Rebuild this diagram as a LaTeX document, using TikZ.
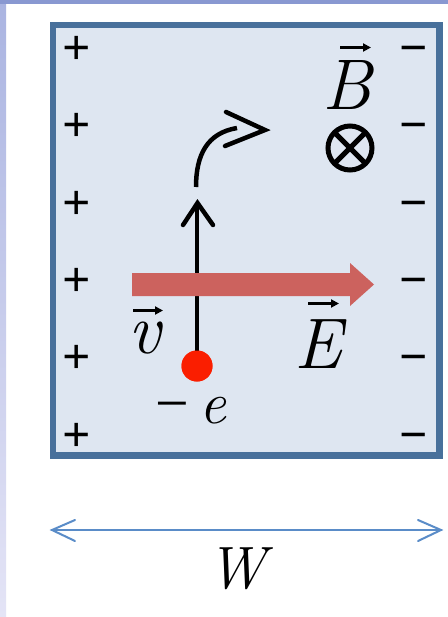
\documentclass[tikz,border=0pt]{standalone}
\usepackage{fontspec}
\newfontfamily\signfont{Liberation Serif}
\usetikzlibrary{arrows.meta}
\definecolor{boxfill}{RGB}{222,230,241}
\definecolor{boxborder}{RGB}{72,112,155}
\definecolor{topband}{RGB}{137,152,209}
\definecolor{sidetop}{RGB}{170,180,225}
\definecolor{sidebot}{RGB}{228,228,246}
\definecolor{efield}{RGB}{204,98,94}
\definecolor{dotred}{RGB}{250,30,0}
\definecolor{wblue}{RGB}{90,140,200}
\tikzset{
  sign/.style={font=\fontsize{50}{50}\selectfont\signfont\bfseries, inner sep=0, anchor=base},
  biglabel/.style={font=\fontsize{72}{72}\selectfont\itshape, inner sep=0, anchor=base},
  midlabel/.style={font=\fontsize{60}{60}\selectfont, inner sep=0, anchor=base},
  blackline/.style={draw=black, line width=4.5bp},
  chevron/.style={draw=black, line width=4.5bp, line join=miter, line cap=round},
  wline/.style={draw=wblue, line width=2bp, line cap=round, line join=miter},
  vecarrow/.style={draw=black, line width=2.2bp, -{Triangle[length=8bp,width=8bp]}},
}
\begin{document}
\begin{tikzpicture}[x=1bp,y=-1bp]
\useasboundingbox (0,0) rectangle (448,617);
\fill[white] (0,0) rectangle (448,617);
\shade[top color=sidetop, bottom color=sidebot] (0,0) rectangle (6,617);
\fill[topband] (0,0) rectangle (448,4);

% plate
\node[draw=boxborder, line width=6.5bp, fill=boxfill, minimum width=386.5bp,
      minimum height=430.5bp, inner sep=0, outer sep=0] (plate) at (246.25,240.25) {};

% charges
\foreach \y [count=\i] in {52.5,129,207,284,360.5,439} {
  \node[sign] (plus\i) at (77,\y+12.5) {+};
  \node[sign] (minus\i) at (414,\y+12.5) {−};
}

% velocity arrow
\coordinate (vtip) at (197.5,203);
\coordinate (varm1) at (183,225);
\coordinate (varm2) at (213,225);
\node[circle, fill=dotred, minimum size=31bp, inner sep=0] (dot) at (197,366) {};
\draw[blackline] (dot.center) -- (197,205);
\draw[chevron] (varm1) -- (vtip) -- (varm2);

% electric field arrow
\fill[efield] (132,273) -- (350,273) -- (350,263) -- (374,284.5) -- (350,306)
  -- (350,296) -- (132,296) -- cycle;

\node[circle, fill=dotred, minimum size=31bp, inner sep=0] (dot2) at (197,366) {};

% curved deflection
\coordinate (cs) at (196,187);
\coordinate (ce) at (237,128);
\coordinate (ctip) at (265,130);
\coordinate (carm1) at (226,112);
\coordinate (carm2) at (225,146);
\draw[blackline] (cs) .. controls (196,155) and (207,133) .. (ce);
\draw[chevron] (carm1) -- (ctip) -- (carm2);

% B into page
\node[draw=black, circle, line width=5bp, minimum size=44bp, inner sep=0, outer sep=0] (bsym) at (350,148) {};
\draw[line width=5bp] (bsym.north west) -- (bsym.south east);
\draw[line width=5bp] (bsym.north east) -- (bsym.south west);

% labels
\node[biglabel] (Blab) at (347,110) {B};
\node[biglabel] (Elab) at (318,368) {E};
\node[biglabel] (vlab) at (145,353) {v};
\node[midlabel] (elab) at (191,423) {{\signfont −}\,\textit{e}};
\coordinate (Ba) at (340,47.5);  \coordinate (Bb) at (371,47.5);
\coordinate (Ea) at (308,303.5); \coordinate (Eb) at (339,303.5);
\coordinate (va) at (133,310.5); \coordinate (vb) at (163,310.5);
\draw[vecarrow] (Ba) -- (Bb);
\draw[vecarrow] (Ea) -- (Eb);
\draw[vecarrow] (va) -- (vb);

% width
\coordinate (wl) at (52,530);
\coordinate (wr) at (441,530);
\draw[wline] (wl) -- (wr);
\draw[wline] (75,520) -- (wl) -- (75,541);
\draw[wline] (418,520) -- (wr) -- (418,541);
\node[midlabel] (wlab) at (240,588) {\textit{W}};
\end{tikzpicture}
\end{document}
